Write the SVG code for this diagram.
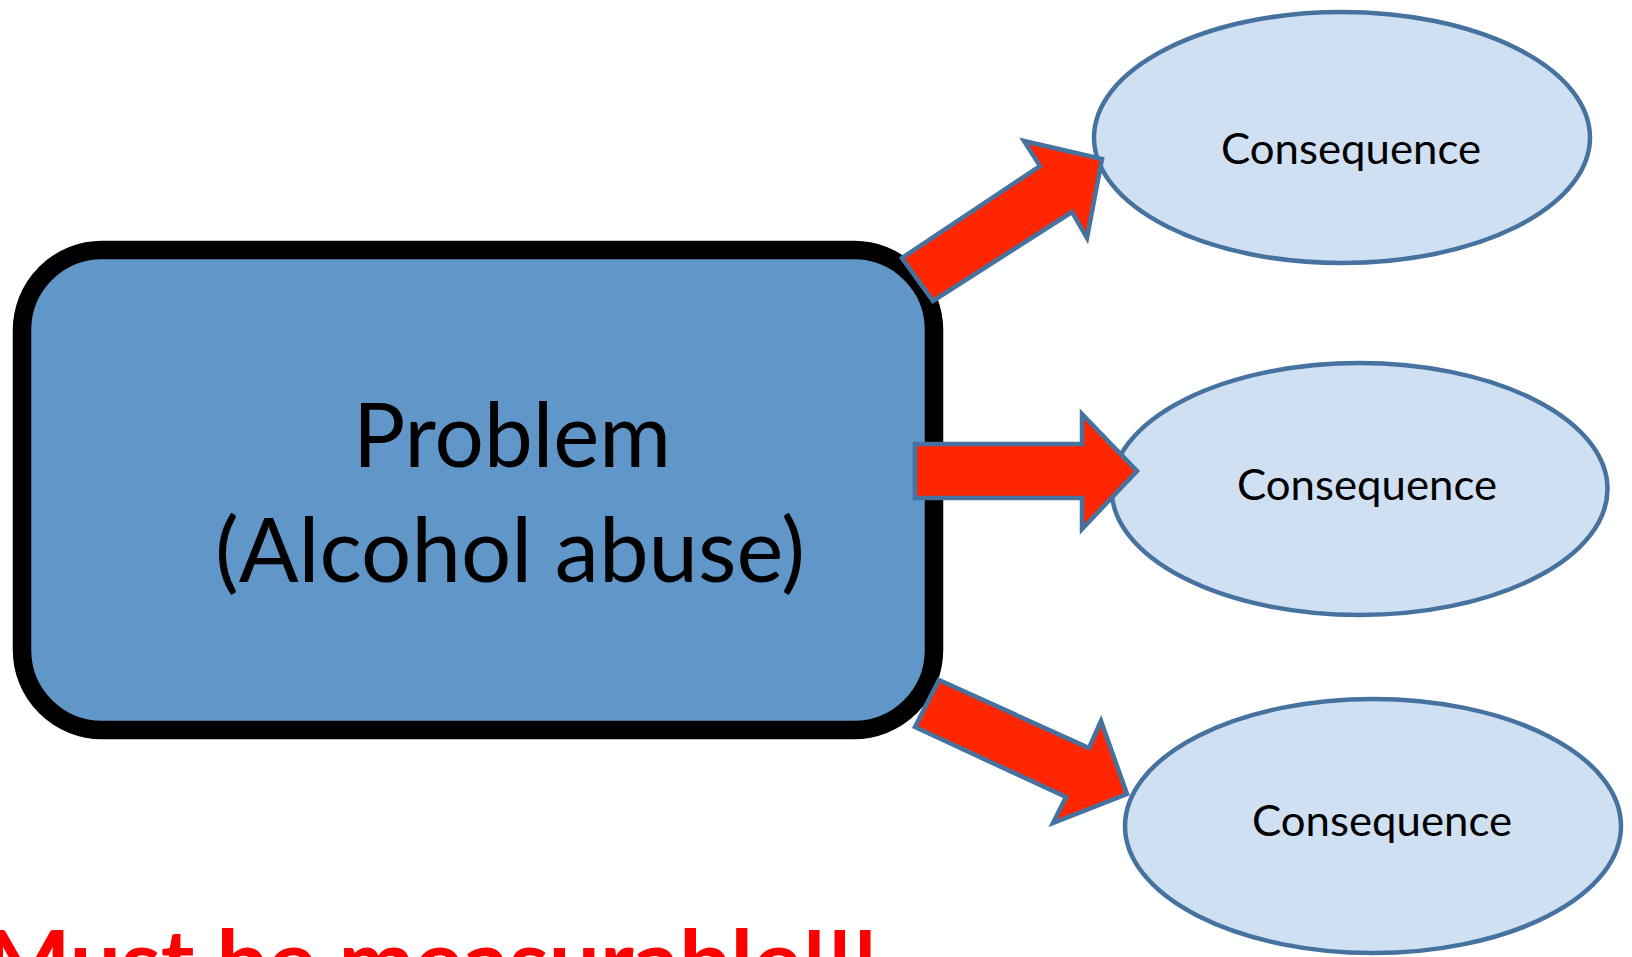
<svg xmlns="http://www.w3.org/2000/svg" width="1632" height="957" viewBox="0 0 1632 957">
  <style>
    .problem { fill: #6096C8; stroke: #000000; stroke-width: 18.5; }
    .conseq { fill: #CFE0F2; stroke: #4672A0; stroke-width: 4.5; }
    .arrow { fill: #FF2600; stroke: #4672A0; stroke-width: 4.5; stroke-linejoin: miter; }
    .big { font-family: Lato, "Liberation Sans", sans-serif; font-size: 90px; fill: #000000; text-anchor: middle; }
    .small { font-family: Lato, "Liberation Sans", sans-serif; font-size: 42px; fill: #000000; text-anchor: middle; }
    .warn { font-family: Lato, "Liberation Sans", sans-serif; font-weight: bold; font-size: 86px; fill: #FF0000; }
  </style>

  <rect width="1632" height="957" fill="#FFFFFF"/>

  <!-- central problem box -->
  <g id="problem">
    <rect class="problem" x="22" y="250" width="912" height="480" rx="80" ry="80"/>
    <text class="big" x="512" y="467" textLength="318" lengthAdjust="spacingAndGlyphs">Problem</text>
    <text class="big" x="510" y="582" textLength="590" lengthAdjust="spacingAndGlyphs">(Alcohol abuse)</text>
  </g>

  <!-- consequence ellipses -->
  <g id="consequence-1">
    <ellipse class="conseq" cx="1342" cy="137.5" rx="248" ry="125.5"/>
    <text class="small" x="1351" y="163.5" textLength="260" lengthAdjust="spacingAndGlyphs">Consequence</text>
  </g>
  <g id="consequence-2">
    <ellipse class="conseq" cx="1359.5" cy="489" rx="248" ry="126"/>
    <text class="small" x="1367" y="500" textLength="260" lengthAdjust="spacingAndGlyphs">Consequence</text>
  </g>
  <g id="consequence-3">
    <ellipse class="conseq" cx="1373" cy="826" rx="248" ry="127"/>
    <text class="small" x="1382" y="836" textLength="260" lengthAdjust="spacingAndGlyphs">Consequence</text>
  </g>

  <!-- block arrows from problem to consequences -->
  <g id="connectors">
    <polygon class="arrow" points="902,258 1040,166 1024,141 1102,159 1087,238 1072,212 933,301"/>
    <polygon class="arrow" points="915,444 1082,444 1082,414 1137,471 1082,529 1082,498 915,498"/>
    <polygon class="arrow" points="939,680 1089,748 1101,721 1127,794 1053,823 1066,797 915,727"/>
  </g>

  <!-- footer note, running off the bottom edge -->
  <g id="note">
    <text class="warn" x="-15" y="992" textLength="893" lengthAdjust="spacingAndGlyphs">Must be measurable!!!</text>
  </g>
</svg>
